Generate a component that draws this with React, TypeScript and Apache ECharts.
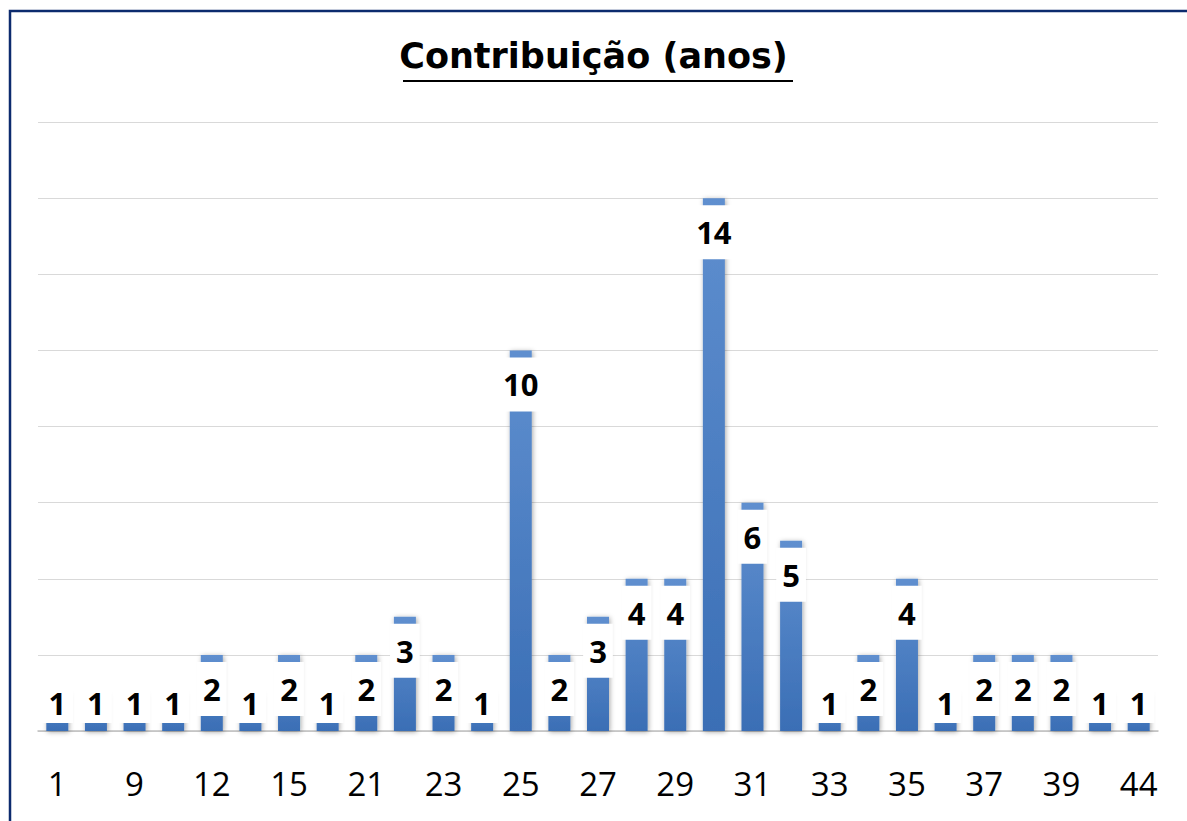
import React, { useEffect, useRef } from "react";
import * as echarts from "echarts";

const categories = ["1","5","9","10","12","13","15","20","21","22","23","24","25","26","27","28","29","30","31","32","33","34","35","36","37","38","39","40","44"];
const values = [1,1,1,1,2,1,2,1,2,3,2,1,10,2,3,4,4,14,6,5,1,2,4,1,2,2,2,1,1];
const titleText = "Contribuição (anos)";
const yMin = 0;
const yMax = 16;
const yInterval = 2;

export default function App() {
  const ref = useRef<HTMLDivElement>(null);
  useEffect(() => {
    if (!ref.current) return;
    const chart = echarts.init(ref.current, null, { renderer: "svg" });
    const font = "'Open Sans', 'Noto Sans', sans-serif";
    const data = values.map((v) => {
      if (v <= 1) {
        return {
          value: v,
          label: { position: "insideBottom", distance: 8, padding: [5, 7] },
        };
      }
      return { value: v };
    });
    chart.setOption({
      animation: false,
      backgroundColor: "#ffffff",
      title: {
        text: titleText,
        left: "center",
        top: 33,
        textStyle: { fontFamily: "'DejaVu Sans', sans-serif", fontSize: 35, fontWeight: "bold", color: "#000000" },
      },
      graphic: [
        {
          type: "rect",
          shape: { x: 10, y: 11, width: 1400, height: 1000 },
          style: { fill: "none", stroke: "#0c2b6e", lineWidth: 2.5 },
          silent: true,
        },
        {
          type: "line",
          shape: { x1: 403, y1: 81, x2: 793, y2: 81 },
          style: { stroke: "#000000", lineWidth: 2 },
          silent: true,
        },
      ],
      grid: { left: 38, right: 29, top: 122, bottom: 90, containLabel: false },
      xAxis: {
        type: "category",
        data: categories,
        axisLine: { show: true, lineStyle: { color: "#bfbfbf", width: 1.5 } },
        axisTick: { show: false },
        axisLabel: {
          interval: 1,
          margin: 36,
          fontFamily: font,
          fontSize: 33,
          color: "#000000",
        },
      },
      yAxis: {
        type: "value",
        min: yMin,
        max: yMax,
        interval: yInterval,
        axisLabel: { show: false },
        axisLine: { show: false },
        axisTick: { show: false },
        splitLine: { lineStyle: { color: "#d9d9d9", width: 1 } },
      },
      series: [
        {
          type: "bar",
          data,
          barWidth: 22,
          itemStyle: {
            color: new echarts.graphic.LinearGradient(0, 0, 0, 1, [
              { offset: 0, color: "#5f8fcf" },
              { offset: 1, color: "#3a6eb5" },
            ]),
            shadowColor: "rgba(0,0,0,0.35)",
            shadowBlur: 5,
            shadowOffsetX: 1,
            shadowOffsetY: 1,
          },
          label: {
            show: true,
            position: "insideTop",
            distance: 7,
            backgroundColor: "#ffffff",
            padding: [12, 6],
            fontFamily: font,
            fontSize: 31,
            lineHeight: 30,
            fontWeight: "bold",
            color: "#000000",
          },
        },
      ],
    });
    return () => chart.dispose();
  }, []);
  return (
    <div
      ref={ref}
      style={{ position: "absolute", left: 0, top: 0, width: 1187, height: 821 }}
    />
  );
}
